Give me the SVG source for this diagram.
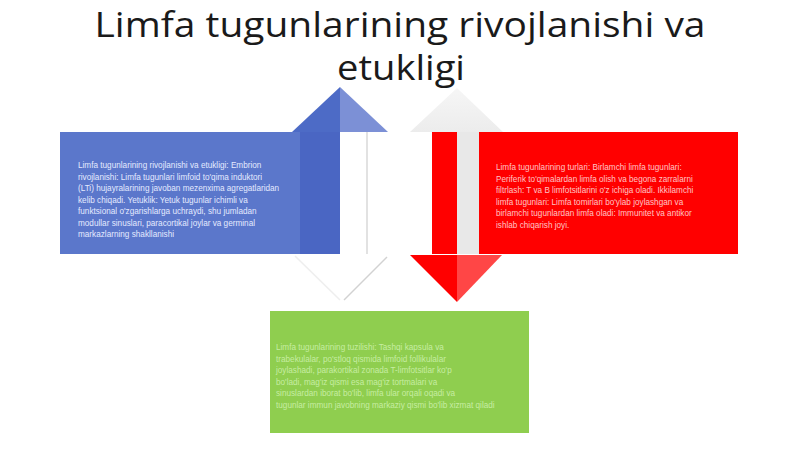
<svg xmlns="http://www.w3.org/2000/svg" width="800" height="449" viewBox="0 0 800 449">
  <defs>
    <style>
      .title { font-family: "Open Sans", "Liberation Sans", sans-serif; font-size: 35px; fill: #1a1a1a; text-anchor: middle; }
      .body { font-family: "Liberation Sans", Arial, sans-serif; font-size: 8.2px; }
      .blue-t { fill: #e4eaff; }
      .red-t { fill: #ffc4c4; }
      .green-t { fill: #c6eda2; }
    </style>
    <linearGradient id="gGray" x1="0" y1="0" x2="0" y2="1">
      <stop offset="0" stop-color="#f6f6f6"/>
      <stop offset="1" stop-color="#ececec"/>
    </linearGradient>
  </defs>
  <rect width="800" height="449" fill="#ffffff"/>

  <g id="title">
    <text class="title" x="400" y="37" textLength="611" lengthAdjust="spacingAndGlyphs">Limfa tugunlarining rivojlanishi va</text>
    <text class="title" x="401" y="80" textLength="128" lengthAdjust="spacingAndGlyphs">etukligi</text>
  </g>

  <g id="connectors">
    <!-- blue up arrow -->
    <polygon points="292,132 340,87 340,132" fill="#4d6bc6"/>
    <polygon points="340,87 388,132 340,132" fill="#7c90d6"/>
    <rect x="340" y="132" width="27" height="122" fill="#ffffff"/>
    <line x1="367" y1="132" x2="367" y2="254" stroke="#cfcfcf" stroke-width="1.2"/>
    <!-- white down arrowhead under blue -->
    <polygon points="295,255 387,255 342,302" fill="#ffffff"/>
    <line x1="295" y1="256" x2="340" y2="300" stroke="#eeeeee" stroke-width="1.5"/>
    <line x1="387" y1="257" x2="344" y2="300" stroke="#d2d2d2" stroke-width="1.5"/>
    <!-- light gray up arrowhead above red -->
    <polygon points="410,132 457,88 503,132" fill="url(#gGray)"/>
    <rect x="457" y="132" width="22" height="122" fill="#e8e8e8"/>
    <!-- red down arrowhead -->
    <polygon points="410,255 457,255 457,302" fill="#ff0000"/>
    <polygon points="457,255 502,255 457,302" fill="#ff4646"/>
  </g>

  <g id="node-blue">
    <rect x="60" y="132" width="280" height="122" fill="#5b77cb"/>
    <rect x="300" y="132" width="40" height="122" fill="#4a66c3"/>
    <text class="body blue-t">
      <tspan x="78" y="168">Limfa tugunlarining rivojlanishi va etukligi: Embrion</tspan>
      <tspan x="78" y="179.5">rivojlanishi: Limfa tugunlari limfoid to'qima induktori</tspan>
      <tspan x="78" y="191">(LTi) hujayralarining javoban mezenxima agregatlaridan</tspan>
      <tspan x="78" y="202.5">kelib chiqadi. Yetuklik: Yetuk tugunlar ichimli va</tspan>
      <tspan x="78" y="214">funktsional o'zgarishlarga uchraydi, shu jumladan</tspan>
      <tspan x="78" y="225.5">modullar sinuslari, paracortikal joylar va germinal</tspan>
      <tspan x="78" y="237">markazlarning shakllanishi</tspan>
    </text>
  </g>

  <g id="node-red">
    <rect x="432" y="132" width="25" height="122" fill="#ff0000"/>
    <rect x="479" y="132" width="259" height="122" fill="#ff0000"/>
    <text class="body red-t">
      <tspan x="496" y="170">Limfa tugunlarining turlari: Birlamchi limfa tugunlari:</tspan>
      <tspan x="496" y="181.5">Periferik to'qimalardan limfa olish va begona zarralarni</tspan>
      <tspan x="496" y="193">filtrlash: T va B limfotsitlarini o'z ichiga oladi. Ikkilamchi</tspan>
      <tspan x="496" y="204.5">limfa tugunlari: Limfa tomirlari bo'ylab joylashgan va</tspan>
      <tspan x="496" y="216">birlamchi tugunlardan limfa oladi: Immunitet va antikor</tspan>
      <tspan x="496" y="227.5">ishlab chiqarish joyi.</tspan>
    </text>
  </g>

  <g id="node-green">
    <rect x="270" y="311" width="259" height="122" fill="#8fce4f"/>
    <text class="body green-t">
      <tspan x="276" y="350">Limfa tugunlarining tuzilishi: Tashqi kapsula va</tspan>
      <tspan x="276" y="361.5">trabekulalar, po'stloq qismida limfoid follikulalar</tspan>
      <tspan x="276" y="373">joylashadi, parakortikal zonada T-limfotsitlar ko'p</tspan>
      <tspan x="276" y="384.5">bo'ladi, mag'iz qismi esa mag'iz tortmalari va</tspan>
      <tspan x="276" y="396">sinuslardan iborat bo'lib, limfa ular orqali oqadi va</tspan>
      <tspan x="276" y="407.5">tugunlar immun javobning markaziy qismi bo'lib xizmat qiladi</tspan>
    </text>
  </g>
</svg>
